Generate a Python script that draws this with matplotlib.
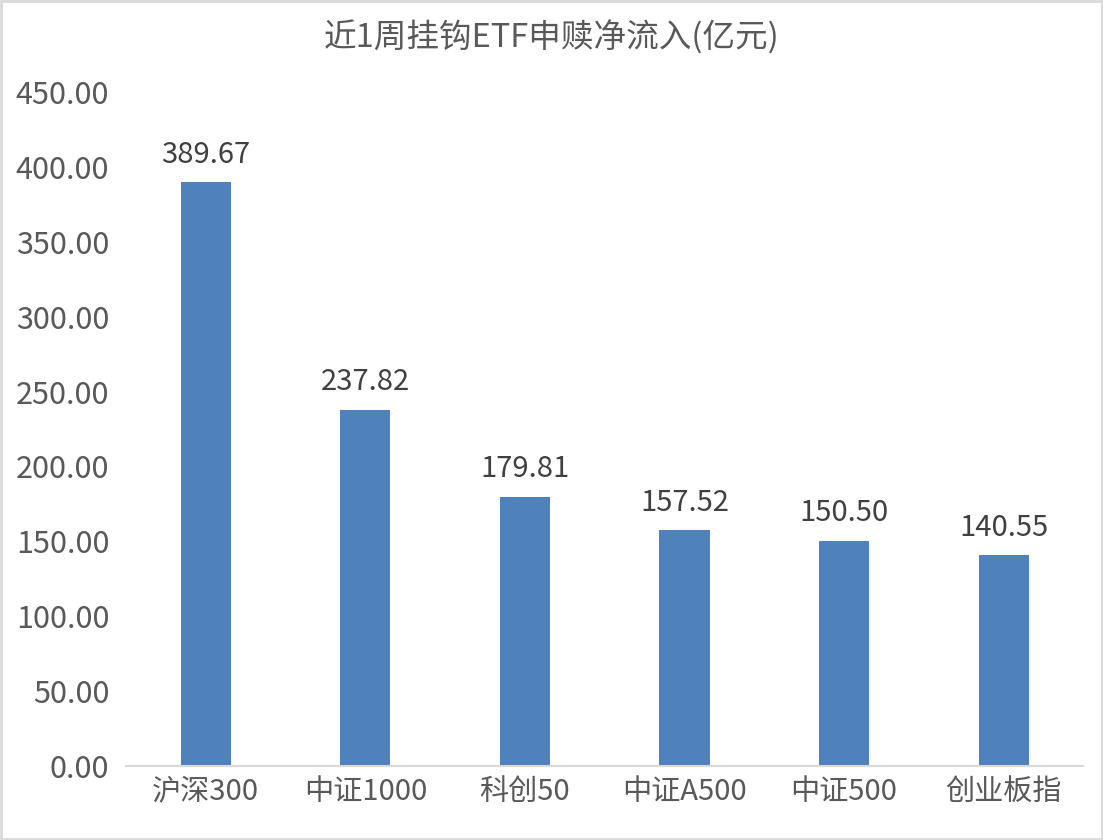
import matplotlib
matplotlib.use("Agg")
import matplotlib.pyplot as plt
from matplotlib.patches import Rectangle

plt.rcParams['font.family'] = ['Noto Sans CJK SC', 'DejaVu Sans']

categories = ['沪深300', '中证1000', '科创50', '中证A500', '中证500', '创业板指']
values = [389.67, 237.82, 179.81, 157.52, 150.50, 140.55]
title = '近1周挂钩ETF申赎净流入(亿元)'
yticks = [0, 50, 100, 150, 200, 250, 300, 350, 400, 450]

fig = plt.figure(figsize=(11.03, 8.40), dpi=100)
ax = fig.add_axes([0.1142, 0.0881, 0.868, 0.8024])

x = list(range(len(categories)))
bars = ax.bar(x, values, width=0.314, color='#4F81BD', zorder=2)
for xi, v in zip(x, values):
    ax.annotate(f'{v:.2f}', (xi, v), xytext=(0, 9), textcoords='offset points',
                ha='center', va='bottom', fontsize=21, color='#404040')

ax.set_xlim(-0.5, len(categories) - 0.5)
ax.set_ylim(0, 450)
ax.set_yticks(yticks)
ax.set_yticklabels([f'{t:.2f}' for t in yticks], fontsize=22, color='#595959')
ax.set_xticks(x)
ax.set_xticklabels(categories, fontsize=21, color='#595959')
ax.tick_params(axis='y', length=0, pad=12)
ax.tick_params(axis='x', length=0, pad=8)
for s in ['top', 'right', 'left']:
    ax.spines[s].set_visible(False)
ax.spines['bottom'].set_color('#D9D9D9')
ax.spines['bottom'].set_linewidth(1.5)

fig.text(0.5, 0.955, title, ha='center', va='center', fontsize=23.5, color='#595959')

fig.patches.append(Rectangle((0.001, 0.001), 0.998, 0.998, transform=fig.transFigure,
                             fill=False, edgecolor='#D9D9D9', linewidth=2))

fig.savefig('out.png', dpi=100)
